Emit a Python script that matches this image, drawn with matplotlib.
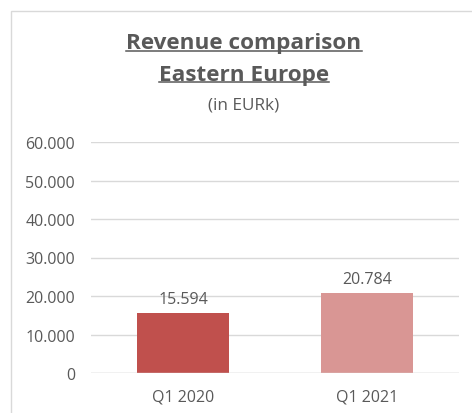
import matplotlib.pyplot as plt
from matplotlib.patches import Rectangle
from matplotlib.lines import Line2D

# chart data
categories = ["Q1 2020", "Q1 2021"]
revenue = [15594, 20784]
bar_colors = ["#C0504D", "#D99694"]
y_ticks = [0, 10000, 20000, 30000, 40000, 50000, 60000]

text_gray = "#595959"
plt.rcParams['font.family'] = ['Open Sans', 'DejaVu Sans']


def fmt(v):
    # european thousands separator
    return f"{v:,.0f}".replace(",", ".")


fig = plt.figure(figsize=(4.72, 4.14), dpi=100)
W, H = 472, 414

# light outer frame of the chart area (cropped at right/bottom)
fig.patches.append(Rectangle((11 / W, -0.1), 1.2, 1 - 12 / H + 0.1, transform=fig.transFigure,
                             fill=False, edgecolor="#D9D9D9", linewidth=1.0))

ax = fig.add_axes([91 / W, 1 - 374 / H, (459 - 91) / W, (374 - 143) / H])
x = list(range(len(categories)))
bars = ax.bar(x, revenue, width=0.505, color=bar_colors, zorder=3)
ax.set_xlim(-0.5, 1.5)
ax.set_ylim(0, 60000)
ax.set_yticks(y_ticks)
ax.set_yticklabels([fmt(t) for t in y_ticks])
ax.set_xticks(x)
ax.set_xticklabels(categories)
ax.tick_params(axis="both", length=0, colors=text_gray, labelsize=11.5)
ax.tick_params(axis="y", pad=11.5)
ax.tick_params(axis="x", pad=11)
ax.grid(axis="y", color="#D9D9D9", linewidth=1.0, zorder=0)
for s in ax.spines.values():
    s.set_visible(False)
ax.axhline(0, color="#D9D9D9", linewidth=1.0, zorder=4)

for b, v in zip(bars, revenue):
    ax.annotate(fmt(v), (b.get_x() + b.get_width() / 2, v), xytext=(0, 4),
                textcoords="offset points", ha="center", va="bottom",
                color=text_gray, fontsize=11.5)

# titles with underline (centred over the chart frame, not the image)
cx = 244 / W
t1 = fig.text(cx, 1 - 44 / H, "Revenue comparison", ha="center", va="center",
              fontsize=16.2, fontweight="bold", color=text_gray)
t2 = fig.text(cx, 1 - 75 / H, "Eastern Europe", ha="center", va="center",
              fontsize=16.2, fontweight="bold", color=text_gray)
fig.text(cx, 1 - 105 / H, "(in EURk)", ha="center", va="center",
         fontsize=12.3, color=text_gray)

underline_y = [52, 83]
fig.canvas.draw()
r = fig.canvas.get_renderer()
for t, uy in zip((t1, t2), underline_y):
    bb = t.get_window_extent(r).transformed(fig.transFigure.inverted())
    yy = 1 - uy / H
    fig.lines.append(Line2D([bb.x0, bb.x1], [yy, yy], transform=fig.transFigure,
                            color=text_gray, linewidth=1.1))

fig.savefig("out.png", dpi=100)
